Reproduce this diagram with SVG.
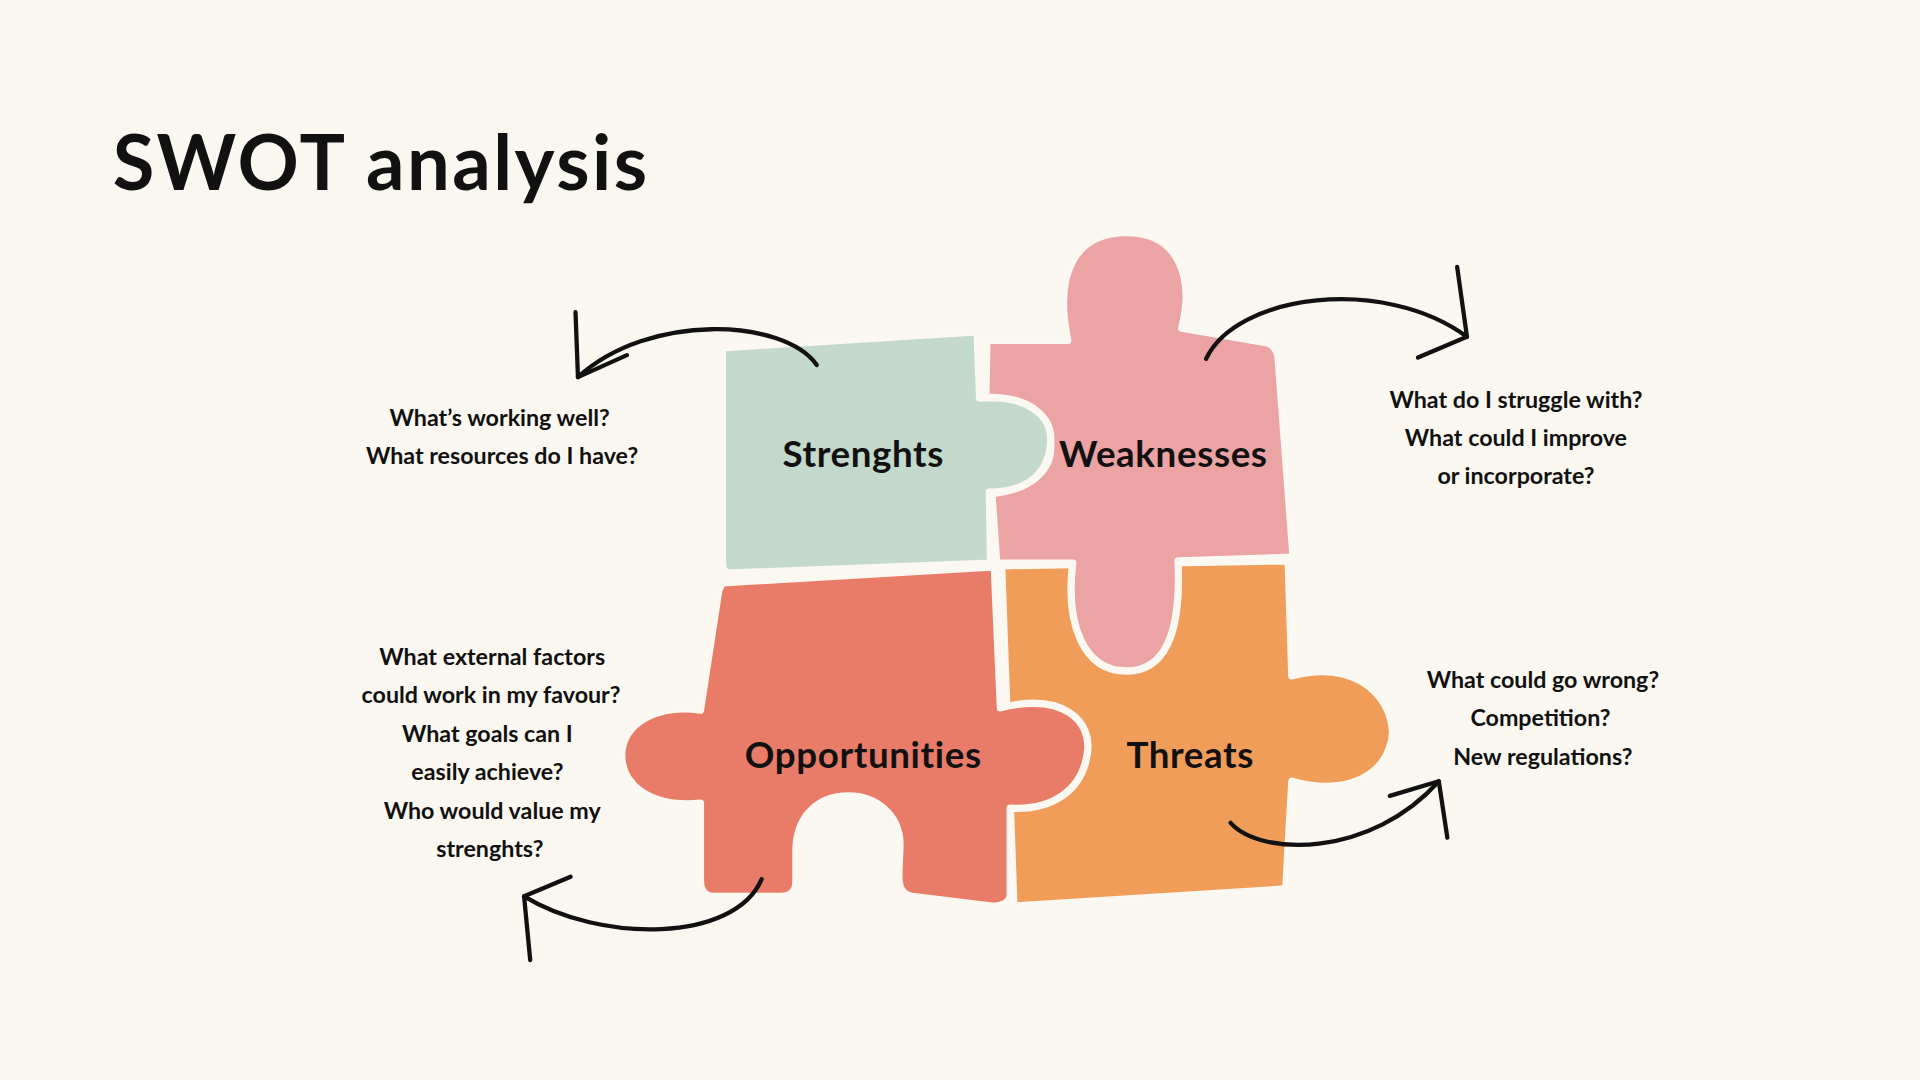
<svg xmlns="http://www.w3.org/2000/svg" width="1920" height="1080" viewBox="0 0 1920 1080">
<style>
.p{stroke:#fbf8f1;stroke-width:6;stroke-linejoin:round}
.a{fill:none;stroke:#111;stroke-width:3.5;stroke-linecap:round;stroke-linejoin:round}
.t{font-family:Lato,"DejaVu Sans",sans-serif;fill:#111}
.lb{font-size:30px;font-weight:bold;text-anchor:middle;letter-spacing:0.5px}
.q{font-size:19px;font-weight:bold;text-anchor:middle}
</style>
<rect width="1920" height="1080" fill="#faf7f0"/>
<g transform="scale(1.2245)">
<text class="t" x="92" y="155" font-size="62" font-weight="bold" letter-spacing="2">SWOT analysis</text>
<g id="threats"><path class="p" fill="#f09d5a" d="M818,462 L1052,458 L1055,552 C1120,535 1145,585 1135,610 C1125,640 1090,648 1055,638 L1050,726 L828,740 Z"/>
<text class="t lb" x="972" y="627">Threats</text></g>
<g id="weaknesses"><path class="p" fill="#eca3a3" d="M806,278 L872,278 C860,220 880,190 920,190 C965,190 975,230 965,268 L1035,280 C1042,282 1044,290 1044,295 L1056,455 L962,458 C965,520 950,548 920,548 C885,548 870,510 876,460 L814,460 L810,403 C840,400 860,385 858,362 C856,335 835,325 805,326 Z"/>
<text class="t lb" x="950" y="381">Weaknesses</text></g>
<g id="strengths"><path class="p" fill="#c3d9cc" d="M590,284 L798,271 L800,325 C840,322 860,340 858,362 C856,390 835,402 808,402 L809,460 L596,468 C592,468 590,465 590,460 Z"/>
<text class="t lb" x="705" y="381">Strenghts</text></g>
<g id="opportunities"><path class="p" fill="#e97c69" d="M590,476 L812,463 L817,578 C870,565 892,590 888,615 C884,645 860,662 825,660 L825,730 C825,738 818,740 810,740 L745,732 C735,730 734,722 734,715 L735,690 C735,665 715,650 693,650 C665,650 650,670 650,695 L650,720 C650,728 645,732 638,732 L582,732 C575,732 572,726 572,720 L572,656 C530,660 505,640 508,612 C512,588 540,575 572,580 L587,482 Z"/>
<text class="t lb" x="705" y="627">Opportunities</text></g>
<g id="connectors">
<path class="a" d="M667,298 C640,260 530,255 472,308"/><path class="a" d="M470,255 L472,308 L512,290"/>
<path class="a" d="M985,293 C1010,240 1130,225 1198,275"/><path class="a" d="M1190,218 L1198,275 L1158,292"/>
<path class="a" d="M1005,672 C1030,700 1120,700 1175,638"/><path class="a" d="M1135,650 L1175,638 L1182,684"/>
<path class="a" d="M622,718 C600,770 490,770 428,732"/><path class="a" d="M466,716 L428,732 L433,784"/>
</g>
<g id="q-strengths" class="t q"><text x="408" y="348">What’s working well?</text><text x="410" y="379">What resources do I have?</text></g>
<g id="q-weaknesses" class="t q"><text x="1238" y="333">What do I struggle with?</text><text x="1238" y="364">What could I improve</text><text x="1238" y="395">or incorporate?</text></g>
<g id="q-threats" class="t q"><text x="1260" y="562">What could go wrong?</text><text x="1258" y="593">Competition?</text><text x="1260" y="625">New regulations?</text></g>
<g id="q-opportunities" class="t q"><text x="402" y="543">What external factors</text><text x="401" y="574">could work in my favour?</text><text x="398" y="606">What goals can I</text><text x="398" y="637">easily achieve?</text><text x="402" y="669">Who would value my</text><text x="400" y="700">strenghts?</text></g>
</g>
</svg>
